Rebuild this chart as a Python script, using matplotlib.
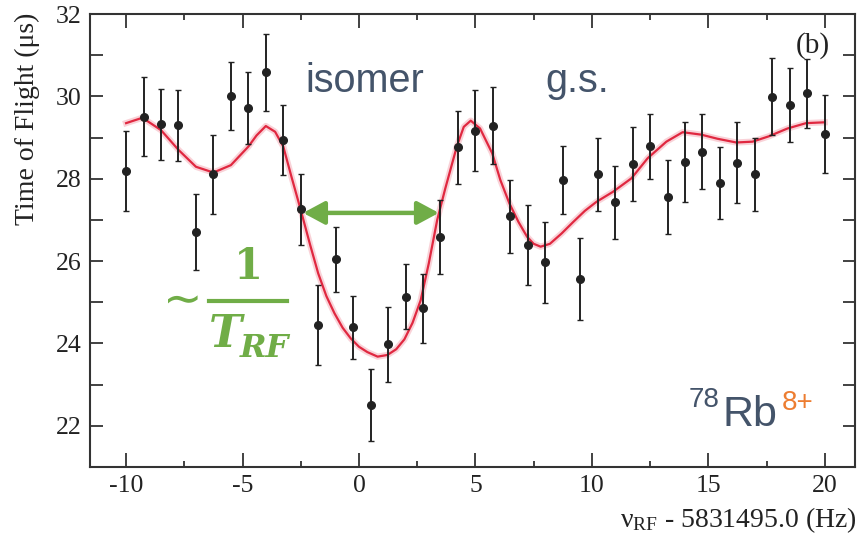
import numpy as np
import matplotlib
matplotlib.use("Agg")
import matplotlib.pyplot as plt
from matplotlib.lines import Line2D
from matplotlib.ticker import MultipleLocator

# measured points: frequency offset (Hz), time of flight (us), error
freq = [-10, -9.25, -8.5, -7.75, -7, -6.25, -5.5, -4.75, -4, -3.25,
        -2.5, -1.75, -1, -0.25, 0.5, 1.25, 2, 2.75, 3.5, 4.25,
        5, 5.75, 6.5, 7.25, 8, 8.75, 9.5, 10.25, 11, 11.75,
        12.5, 13.25, 14, 14.75, 15.5, 16.25, 17, 17.75, 18.5, 19.25, 20]
tof = [28.19, 29.51, 29.32, 29.30, 26.70, 28.11, 30.01, 29.71, 30.58, 28.94,
       27.26, 24.45, 26.04, 24.39, 22.51, 23.98, 25.13, 24.85, 26.59, 28.76,
       29.17, 29.29, 27.09, 26.39, 25.97, 27.97, 25.56, 28.11, 27.43, 28.36,
       28.79, 27.55, 28.40, 28.66, 27.89, 28.39, 28.11, 29.99, 29.78, 30.07, 29.09]
tof_err = [0.97, 0.97, 0.87, 0.86, 0.92, 0.96, 0.83, 0.87, 0.93, 0.85,
           0.86, 0.97, 0.79, 0.77, 0.88, 0.91, 0.79, 0.84, 0.90, 0.89,
           0.98, 0.94, 0.89, 0.97, 0.98, 0.83, 1.00, 0.89, 0.89, 0.89,
           0.79, 0.90, 0.97, 0.91, 0.87, 0.98, 0.89, 0.93, 0.90, 0.84, 0.94]

# fit curve
fit_x = [-10, -9.3, -8.5, -7.75, -7.0, -6.25, -5.5, -4.75, -4.4, -4.0, -3.6, -3.25,
         -2.9, -2.5, -2.1, -1.75, -1.4, -1.05, -0.7, -0.35, 0.0, 0.36, 0.8, 1.22,
         1.6, 1.95, 2.3, 2.65, 3.0, 3.36, 3.7, 4.2, 4.5, 4.8, 5.2, 5.72, 6.07,
         6.46, 6.85, 7.22, 7.5, 7.8, 8.2, 8.7, 9.2, 9.7, 10.2, 10.9, 11.7, 12.4,
         13.2, 13.9, 14.7, 15.4, 16.2, 16.9, 17.6, 18.4, 19.2, 20.0]
fit_y = [29.35, 29.48, 29.18, 28.70, 28.29, 28.15, 28.33, 28.78, 29.05, 29.28, 29.14, 28.78,
         28.05, 27.24, 26.40, 25.70, 25.15, 24.73, 24.38, 24.12, 23.92, 23.79, 23.68, 23.72,
         23.86, 24.10, 24.50, 25.05, 25.95, 27.00, 27.75, 28.78, 29.26, 29.41, 29.22, 28.62, 27.97,
         27.40, 26.95, 26.59, 26.42, 26.35, 26.42, 26.67, 26.95, 27.22, 27.44, 27.68, 28.01, 28.50,
         28.90, 29.13, 29.07, 28.97, 28.88, 28.90, 29.03, 29.22, 29.35, 29.37]

W, H = 859, 540
green = "#70AD47"
slate = "#44546A"
orange = "#ED7D31"
dark = "#222222"

plt.rcParams["axes.unicode_minus"] = False
plt.rcParams["mathtext.fontset"] = "custom"
plt.rcParams["mathtext.rm"] = "Liberation Serif"

def fp(x, y):
    return x / W, 1 - y / H

fig = plt.figure(figsize=(W / 100, H / 100), dpi=100)
ax = fig.add_axes([90 / W, 73 / H, (855 - 90) / W, 453 / H])

ax.plot(fit_x, fit_y, color="#f08090", lw=4.5, alpha=0.35, zorder=2)
ax.plot(fit_x, fit_y, color="#e02840", lw=1.6, zorder=3)
ax.errorbar(freq, tof, yerr=tof_err, fmt="o", color=dark, ms=5.5, elinewidth=1.4,
            capsize=2, capthick=1.0, zorder=4)

ax.set_xlim(-11.55, 21.3)
ax.set_ylim(21, 32)
ax.xaxis.set_major_locator(MultipleLocator(5))
ax.xaxis.set_minor_locator(MultipleLocator(2.5))
ax.yaxis.set_major_locator(MultipleLocator(2))
ax.yaxis.set_minor_locator(MultipleLocator(1))
ax.tick_params(which="both", direction="in", top=True, right=True, colors="#333333",
               labelcolor=dark, width=1.3, pad=6)
ax.tick_params(axis="x", which="major", length=10)
ax.tick_params(axis="x", which="minor", length=4.5)
ax.tick_params(axis="y", which="both", length=9)
for lab in ax.get_xticklabels() + ax.get_yticklabels():
    lab.set_fontfamily("Liberation Serif")
    lab.set_fontsize(18.5)
for s in ax.spines.values():
    s.set_color("#333333")
    s.set_linewidth(1.5)

fig.text(*fp(27, 13), "Time of Flight (\u03bcs)", rotation=90, ha="center", va="top",
         family="Liberation Serif", fontsize=20, color=dark)
fig.text(*fp(857, 520), r"$\mathrm{ν_{RF}}$ - 5831495.0 (Hz)", ha="right", va="center",
         family="Liberation Serif", fontsize=20, color=dark)
fig.text(*fp(813, 46), "(b)", ha="center", va="center", family="Liberation Serif",
         fontsize=21, color=dark)

# labels on the plot
fig.text(*fp(305, 92), "isomer", ha="left", va="baseline", family="Liberation Sans",
         fontsize=28.5, color=slate)
fig.text(*fp(545, 92), "g.s.", ha="left", va="baseline", family="Liberation Sans",
         fontsize=28.5, color=slate)
fig.text(*fp(689, 407), "78", ha="left", va="baseline", family="Liberation Sans",
         fontsize=20, color=slate)
fig.text(*fp(722, 426), "Rb", ha="left", va="baseline", family="Liberation Sans",
         fontsize=31, color=slate)
fig.text(*fp(782, 410), "8+", ha="left", va="baseline", family="Liberation Sans",
         fontsize=20, color=orange)

# period arrow and 1/T_RF
ax.annotate("", xy=(-2.4, 27.17), xytext=(3.43, 27.17),
            arrowprops=dict(arrowstyle="<|-|>,head_length=0.65,head_width=0.35",
                            color=green, lw=3.2, mutation_scale=20, shrinkA=0, shrinkB=0),
            zorder=5)
fig.text(*fp(183, 302), "\u223c", ha="center", va="center", family="DejaVu Sans",
         fontsize=34, color=green)
fig.text(*fp(248, 279), "1", ha="center", va="baseline", family="DejaVu Serif",
         fontweight="bold", fontsize=30, color=green)
fig.add_artist(Line2D([209 / W, 287 / W], [1 - 301 / H, 1 - 301 / H], color=green, lw=3,
                      transform=fig.transFigure))
fig.text(*fp(209, 347), "T", ha="left", va="baseline", family="DejaVu Serif",
         fontweight="bold", fontstyle="italic", fontsize=32, color=green)
fig.text(*fp(240, 357), "RF", ha="left", va="baseline", family="DejaVu Serif",
         fontweight="bold", fontstyle="italic", fontsize=23, color=green)

fig.savefig("out.png", dpi=100)
